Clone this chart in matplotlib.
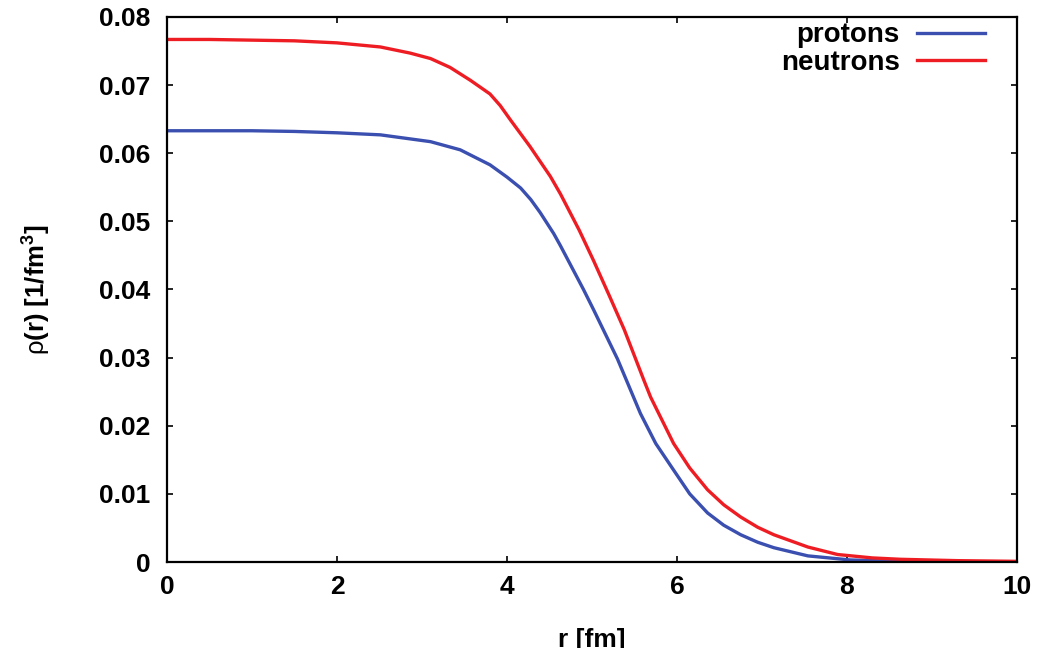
import matplotlib
matplotlib.use("Agg")
import matplotlib.pyplot as plt
import numpy as np

# density profiles
r_p = [0, 0.5, 1, 1.5, 2, 2.51, 3.1, 3.45, 3.8, 4.0, 4.16, 4.28, 4.39, 4.55,
       4.63, 4.9, 5.02, 5.3, 5.57, 5.75, 5.96, 6.15, 6.36, 6.55, 6.75, 6.95,
       7.14, 7.54, 8.04, 8.6, 9.2, 10]
rho_p = [0.0633, 0.0633, 0.0633, 0.0632, 0.0630, 0.0627, 0.0617, 0.0605,
         0.0583, 0.0565, 0.0549, 0.0532, 0.0513, 0.0482, 0.0464, 0.0400,
         0.0370, 0.0298, 0.0218, 0.0174, 0.0135, 0.0100, 0.0072, 0.0054,
         0.0040, 0.0029, 0.0021, 0.0009, 0.0003, 0.0001, 0.0000, 0.0000]

r_n = [0, 0.5, 1, 1.5, 2, 2.51, 2.86, 3.1, 3.33, 3.57, 3.8, 3.92, 4.04, 4.27,
       4.51, 4.63, 4.85, 5.02, 5.2, 5.38, 5.61, 5.69, 5.96, 6.15, 6.36, 6.55,
       6.75, 6.95, 7.14, 7.54, 7.89, 8.3, 8.63, 9.3, 10]
rho_n = [0.0767, 0.0767, 0.0766, 0.0765, 0.0762, 0.0756, 0.0747, 0.0739,
         0.0726, 0.0707, 0.0687, 0.0670, 0.0649, 0.0610, 0.0566, 0.0540,
         0.0487, 0.0442, 0.0392, 0.0341, 0.0267, 0.0242, 0.0174, 0.0138,
         0.0106, 0.0084, 0.0066, 0.0051, 0.0040, 0.0022, 0.0011, 0.0006,
         0.0004, 0.0002, 0.0001]

x_ticks = [0, 2, 4, 6, 8, 10]
y_ticks = [0, 0.01, 0.02, 0.03, 0.04, 0.05, 0.06, 0.07, 0.08]
y_labels = ["0", "0.01", "0.02", "0.03", "0.04", "0.05", "0.06", "0.07", "0.08"]

plt.rcParams['font.family'] = ['Liberation Sans', 'DejaVu Sans']
plt.rcParams['mathtext.fontset'] = 'custom'
plt.rcParams['mathtext.rm'] = 'Liberation Sans'
plt.rcParams['mathtext.it'] = 'Liberation Sans'
plt.rcParams['mathtext.bf'] = 'Liberation Sans:bold'

fig = plt.figure(figsize=(10.61, 6.48), dpi=100)
ax = fig.add_axes([0.1574, 0.1327, 0.8011, 0.8411])

ax.plot(r_p, rho_p, color="#3a4faf", linewidth=2.4, label="protons")
ax.plot(r_n, rho_n, color="#ee1d24", linewidth=2.4, label="neutrons")

ax.set_xlim(0, 10)
ax.set_ylim(0, 0.08)
ax.set_xticks(x_ticks)
ax.set_yticks(y_ticks)
ax.set_yticklabels(y_labels)
ax.tick_params(direction="in", length=4.5, width=1.2, top=True, right=True,
               labelsize=19)
ax.tick_params(axis="x", pad=9)
ax.tick_params(axis="y", pad=12)
for lab in ax.get_xticklabels() + ax.get_yticklabels():
    lab.set_fontweight("bold")
for sp in ax.spines.values():
    sp.set_linewidth(1.6)

ax.set_xlabel("r [fm]", fontsize=19, fontweight="bold")
ax.xaxis.set_label_coords(0.5, -0.121)
ax.set_ylabel(r"$\mathrm{\rho}$(r) [1/fm$^\mathbf{3}$]", fontsize=18.5,
              fontweight="bold")
ax.yaxis.set_label_coords(-0.134, 0.5)

ax.legend(loc="upper right", bbox_to_anchor=(0.962, 0.99), frameon=False,
          markerfirst=False, prop={"weight": "bold", "size": 20},
          handlelength=2.45, handletextpad=0.6, labelspacing=0.05,
          borderpad=0, borderaxespad=0)

fig.savefig("out.png", dpi=100)
